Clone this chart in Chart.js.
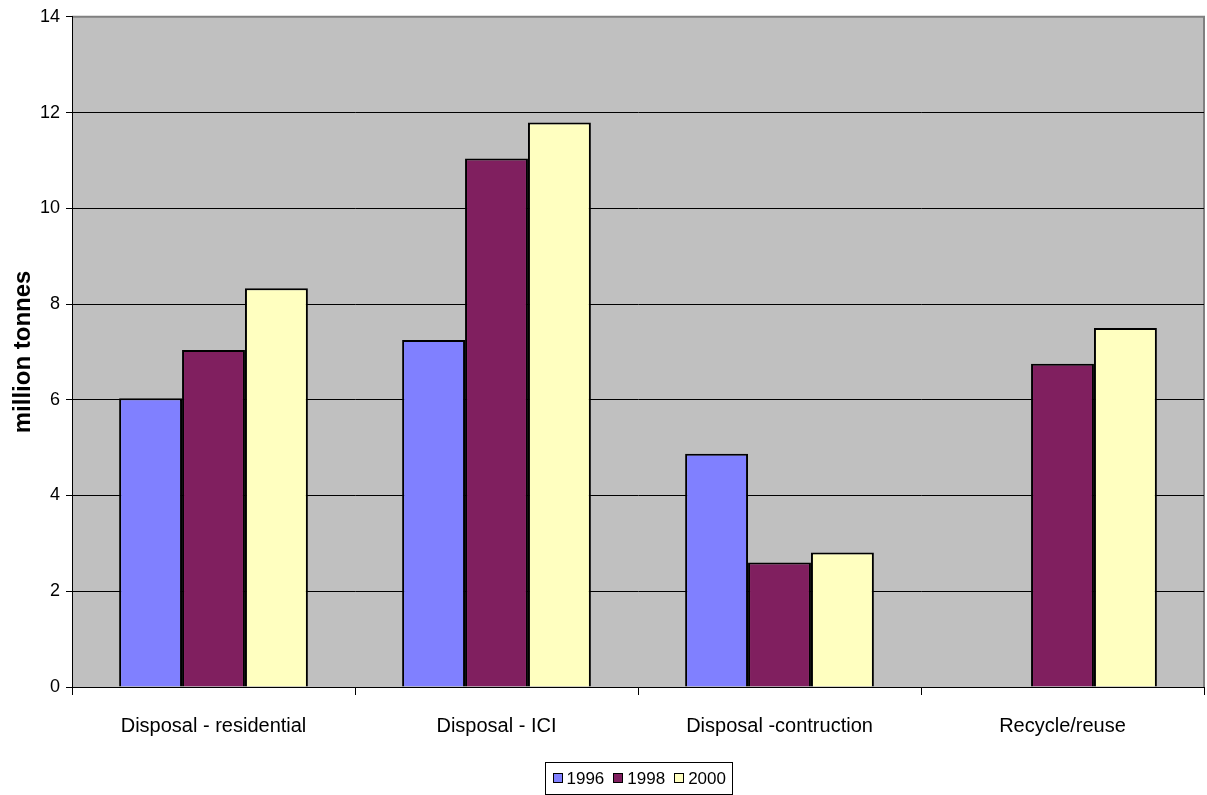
<!DOCTYPE html>
<html>
<head>
<meta charset="utf-8">
<title>Waste disposal and recycling</title>
<script src="https://cdn.jsdelivr.net/npm/chart.js@4"></script>
<style>
  html, body { margin: 0; padding: 0; background: #ffffff; }
  #wrap { width: 1207px; height: 795px; position: relative; }
</style>
</head>
<body>
<div id="wrap"><canvas id="chart" width="1207" height="795"></canvas></div>
<script>
// Waste streams, million tonnes per year
const categories = ['Disposal - residential', 'Disposal - ICI', 'Disposal -contruction', 'Recycle/reuse'];
const years = ['1996', '1998', '2000'];
const values1996 = [6.03, 7.25, 4.87, null];
const values1998 = [7.04, 11.04, 2.60, 6.75];
const values2000 = [8.33, 11.79, 2.81, 7.50];
const yTicks = [0, 2, 4, 6, 8, 10, 12, 14];

const FONT = '"Liberation Sans", Arial, Helvetica, sans-serif';
const seriesColors = ['#8080FF', '#801F5F', '#FFFFC0'];

// Grey plot area with a grey frame on top and right
const plotBackground = {
  id: 'plotBackground',
  beforeDraw(chart) {
    const { ctx, chartArea: a } = chart;
    ctx.save();
    ctx.fillStyle = '#C0C0C0';
    ctx.fillRect(a.left, a.top, a.right - a.left, a.bottom - a.top);
    ctx.strokeStyle = '#808080';
    ctx.lineWidth = 2;
    ctx.beginPath();
    ctx.moveTo(a.left, a.top);
    ctx.lineTo(a.right, a.top);
    ctx.lineTo(a.right, a.bottom);
    ctx.stroke();
    ctx.restore();
  }
};

// Boxed legend centred under the plot area
const boxedLegend = {
  id: 'boxedLegend',
  afterDraw(chart) {
    const { ctx, chartArea: a } = chart;
    const sets = chart.data.datasets;
    const sq = 9, gapText = 5, gapItem = 9, padX = 7;
    ctx.save();
    ctx.font = '17px ' + FONT;
    const widths = sets.map(d => ctx.measureText(d.label).width);
    let inner = 0;
    widths.forEach((w, i) => { inner += sq + gapText + w + (i < widths.length - 1 ? gapItem : 0); });
    const boxW = Math.round(inner + padX * 2);
    const boxH = 32;
    const cx = (a.left + a.right) / 2;
    const bx = Math.round(cx - boxW / 2) + 0.5;
    const by = 762.5;
    ctx.fillStyle = '#ffffff';
    ctx.fillRect(bx, by, boxW, boxH);
    ctx.strokeStyle = '#000000';
    ctx.lineWidth = 1;
    ctx.strokeRect(bx, by, boxW, boxH);
    let x = bx + padX;
    const midY = by + boxH / 2;
    sets.forEach((d, i) => {
      const sy = Math.round(midY - sq / 2 - 1) + 0.5;
      const sx = Math.round(x) + 0.5;
      ctx.fillStyle = d.backgroundColor;
      ctx.fillRect(sx, sy, sq, sq);
      ctx.strokeStyle = '#000000';
      ctx.strokeRect(sx, sy, sq, sq);
      ctx.fillStyle = '#000000';
      ctx.textBaseline = 'middle';
      ctx.textAlign = 'left';
      ctx.fillText(d.label, x + sq + gapText, midY + 1);
      x += sq + gapText + widths[i] + gapItem;
    });
    ctx.restore();
  }
};

const seriesValues = [values1996, values1998, values2000];

new Chart(document.getElementById('chart'), {
  type: 'bar',
  data: {
    labels: categories,
    datasets: years.map((y, i) => ({
      label: y,
      data: seriesValues[i],
      backgroundColor: seriesColors[i],
      borderColor: '#000000',
      borderWidth: 2,
      barPercentage: 1.0,
      categoryPercentage: 0.667
    }))
  },
  options: {
    responsive: false,
    animation: false,
    devicePixelRatio: 1,
    layout: { padding: { top: 14, right: 3, left: 0, bottom: 0 } },
    plugins: {
      legend: { display: false },
      tooltip: { enabled: false }
    },
    scales: {
      x: {
        offset: true,
        grid: {
          offset: true,
          drawOnChartArea: false,
          drawTicks: true,
          tickLength: 8,
          tickColor: '#000000',
          lineWidth: 1
        },
        border: { display: true, color: '#000000', width: 1 },
        ticks: {
          color: '#000000',
          font: { family: FONT, size: 20 },
          padding: 19,
          maxRotation: 0,
          autoSkip: false
        },
        afterFit(scale) { scale.height = 108; }
      },
      y: {
        min: 0,
        max: 14,
        afterBuildTicks(scale) { scale.ticks = yTicks.map(v => ({ value: v })); },
        grid: {
          color: ctx => (ctx.tick && ctx.tick.value === 14 ? '#808080' : '#000000'),
          tickColor: '#000000',
          lineWidth: 1,
          drawTicks: true,
          tickLength: 6
        },
        border: { display: true, color: '#000000', width: 1 },
        ticks: {
          color: '#000000',
          font: { family: FONT, size: 18 },
          padding: 6
        },
        title: {
          display: true,
          text: 'million tonnes',
          color: '#000000',
          font: { family: FONT, size: 24, weight: 'bold' },
          padding: { top: 9, bottom: 0 }
        },
        afterFit(scale) { scale.width = 72; }
      }
    }
  },
  plugins: [plotBackground, boxedLegend]
});
</script>
</body>
</html>
